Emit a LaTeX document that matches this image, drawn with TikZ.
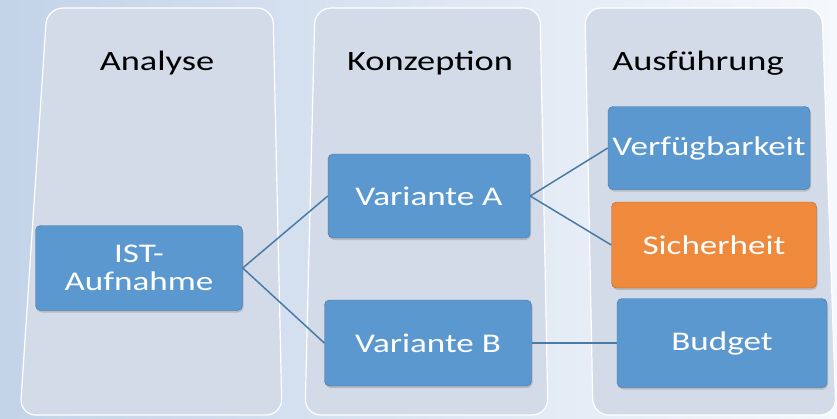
\documentclass[tikz,border=0pt]{standalone}
\usepackage{fontspec}
\setmainfont[FakeStretch=1.3]{Carlito}
\usetikzlibrary{shadows}
\definecolor{bgleft}{HTML}{C3D3E8}
\definecolor{bgright}{HTML}{F5F8FC}
\definecolor{colfill}{HTML}{D2DBE7}
\definecolor{boxblue}{HTML}{5B98D0}
\definecolor{boxorange}{HTML}{EF8A3C}
\definecolor{linkblue}{HTML}{4A7BA7}
\begin{document}
\begin{tikzpicture}[x=1pt,y=-1pt]
\def\coltop{8}
\def\colbot{415}
\def\headbase{70}
\tikzset{col/.style={rounded corners=16pt,fill=colfill,draw=white,line width=1.2pt},
head/.style={anchor=base,font=\fontsize{28}{30}\selectfont,text=black},
box/.style={rounded corners=5pt,fill=boxblue,draw=boxblue!75!black,text=white,
inner sep=2pt,align=center,font=\fontsize{27}{28}\selectfont,
drop shadow={shadow xshift=1pt,shadow yshift=-2pt,opacity=0.35}},
alert/.style={box,fill=boxorange,draw=boxorange!75!black},
link/.style={draw=linkblue,line width=1.5pt}}
\useasboundingbox (0,0) rectangle (837,418);
\shade[left color=bgleft,right color=bgright] (0,0) rectangle (837,418);
% columns
\path[col] (47,\coltop) -- (273,\coltop) -- (282,\colbot) -- (20,\colbot) -- cycle;
\path[col] (315,\coltop) -- (540,\coltop) -- (548,\colbot) -- (305,\colbot) -- cycle;
\path[col] (585,\coltop) -- (822,\coltop) -- (836,\colbot) -- (593,\colbot) -- cycle;
\node[head] (AN) at (157,\headbase) {Analyse};
\node[head] (KO) at (430,\headbase) {Konzeption};
\node[head] (AU) at (698,\headbase) {Ausführung};
% steps
\node[box,minimum width=207pt,minimum height=85pt] (IST) at (139,268) {IST-\\Aufnahme};
\node[box,minimum width=202pt,minimum height=84pt] (VA) at (429,196) {Variante A};
\node[box,minimum width=207pt,minimum height=86pt] (VB) at (428,343) {Variante B};
\node[box,minimum width=202pt,minimum height=83pt] (VF) at (709,148) {Verfügbarkeit};
\node[alert,minimum width=205pt,minimum height=86pt] (SI) at (714,245) {Sicherheit};
\node[box,minimum width=210pt,minimum height=89pt] (BU) at (722,343) {Budget};
\path[link] (IST.east) -- (VA.west);
\path[link] (IST.east) -- (VB.west);
\path[link] (VA.east) -- (VF.west);
\path[link] (VA.east) -- (SI.west);
\path[link] (VB.east) -- (BU.west);
\end{tikzpicture}
\end{document}
